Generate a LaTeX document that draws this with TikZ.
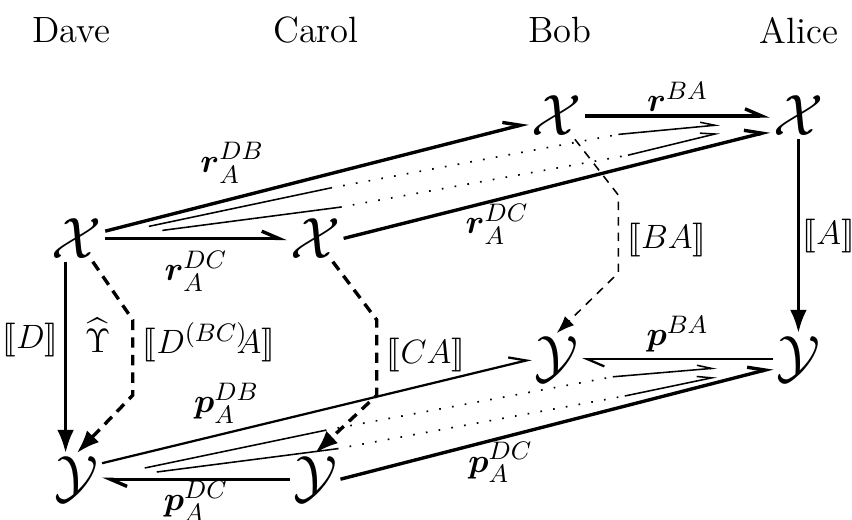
\documentclass[tikz,border=0pt]{standalone}
\usepackage{amsmath,amssymb,stmaryrd}
\usepackage{tikz}
\usetikzlibrary{arrows.meta, calc}

\begin{document}
\begin{tikzpicture}[
  every node/.style={font=\fontsize{13}{15}\selectfont},
  obj/.style     ={inner sep=1pt, font=\fontsize{20.5}{24}\selectfont},
  lbl/.style     ={inner sep=1pt},
  heavy/.style   ={line width=1.2pt},
  mid/.style     ={line width=0.8pt},
  fine/.style    ={line width=0.55pt},
  harp/.style    ={-{Straight Barb[left, length=2.1mm, width=1.8mm]}},
  harpsm/.style  ={-{Straight Barb[left, length=1.8mm, width=1.1mm]}},
  tri/.style     ={-{Latex[length=2.9mm, width=2.1mm]}},
  trism/.style   ={-{Latex[length=2.2mm, width=1.6mm]}},
  bigdash/.style ={heavy, dash pattern=on 1.3mm off 0.9mm},
  smalldash/.style={fine, dash pattern=on 3pt off 2.5pt},
  dots/.style    ={line width=0.6pt, loosely dotted},
]
\useasboundingbox (0,0) rectangle (10.65,-6.5);

%% ---- x layout (cm): D 0.96 / C 3.94 / B 6.96 / A 9.98 ----
%% ---- y layout (cm): names -0.38, X -1.45/-2.98, Y -4.49/-5.99 ----

%% ---- parties ----
\node (dave)  at (0.89,-0.38) {Dave};
\node (carol) at (3.95,-0.38) {Carol};
\node (bob)   at (7.00,-0.38) {Bob};
\node (alice) at (9.99,-0.38) {Alice};

%% ---- X row ----
\node[obj] (XD) at (0.96,-2.98) {$\mathcal{X}$};
\node[obj] (XC) at (3.94,-2.98) {$\mathcal{X}$};
\node[obj] (XB) at (6.96,-1.45) {$\mathcal{X}$};
\node[obj] (XA) at (9.98,-1.45) {$\mathcal{X}$};

%% ---- Y row ----
\node[obj] (YD) at (0.96,-5.99) {$\mathcal{Y}$};
\node[obj] (YC) at (3.94,-5.99) {$\mathcal{Y}$};
\node[obj] (YB) at (6.96,-4.49) {$\mathcal{Y}$};
\node[obj] (YA) at (9.98,-4.49) {$\mathcal{Y}$};

%% ---- r maps ----
\draw[heavy, harp] (XD) -- node[lbl, below=3pt] (lrDC) {$\boldsymbol{r}_A^{DC}$} (XC);
\draw[heavy, harp] (XD) -- node[lbl, pos=0.3, above=4pt] (lrDB) {$\boldsymbol{r}_A^{DB}$} (XB);
\draw[heavy, harp] (XC.east) -- node[lbl, pos=0.36, below=0pt] (lrDCb) {$\boldsymbol{r}_A^{DC}$}
  ([yshift=-0.19cm]XA.west);
\draw[heavy, harp] (XB) -- node[lbl, above=0pt] (lrBA) {$\boldsymbol{r}^{BA}$} (XA);

%% composites (solid / dotted / solid)
\coordinate (a1) at (1.86,-2.83); \coordinate (a2) at (4.13,-2.35);
\coordinate (a3) at (7.73,-1.68); \coordinate (a4) at (9.00,-1.56);
\coordinate (b1) at (2.03,-2.88); \coordinate (b2) at (4.25,-2.59);
\coordinate (b3) at (7.85,-1.94); \coordinate (b4) at (9.00,-1.66);
\draw[fine] (a1) -- (a2);
\draw[dots] (a2) -- (a3);
\draw[fine, harpsm] (a3) -- (a4);
\draw[fine] (b1) -- (b2);
\draw[dots] (b2) -- (b3);
\draw[fine, harpsm] (b3) -- (b4);

%% ---- p maps ----
\draw[heavy, harp] (YC) -- node[lbl, below=-1pt] (lpDC) {$\boldsymbol{p}_A^{DC}$} (YD);
\draw[mid, harp] ([yshift=0.2cm]YD.east) -- node[lbl, pos=0.29, above=2pt] (lpDB) {$\boldsymbol{p}_A^{DB}$}
  (YB.west);
\draw[heavy, harp] (YC.east) -- node[lbl, pos=0.37, below=0pt] (lpDCb) {$\boldsymbol{p}_A^{DC}$}
  ([yshift=-0.11cm]YA.west);
\draw[mid, harp] (YA) -- node[lbl, above=1pt] (lpBA) {$\boldsymbol{p}^{BA}$} (YB);

\coordinate (c1) at (1.81,-5.85); \coordinate (c2) at (4.06,-5.38);
\coordinate (c3) at (7.66,-4.71); \coordinate (c4) at (8.96,-4.60);
\coordinate (d1) at (1.96,-5.90); \coordinate (d2) at (4.21,-5.61);
\coordinate (d3) at (7.81,-4.95); \coordinate (d4) at (8.96,-4.71);
\draw[fine] (c1) -- (c2);
\draw[dots] (c2) -- (c3);
\draw[fine, harpsm] (c3) -- (c4);
\draw[fine] (d1) -- (d2);
\draw[dots] (d2) -- (d3);
\draw[fine, harpsm] (d3) -- (d4);

%% ---- semantics (vertical) ----
\draw[heavy, tri] ([xshift=-0.14cm]XD.south) -- node[lbl, pos=0.41, left=1pt] (lD) {$\llbracket D\rrbracket$}
  ([xshift=-0.14cm]YD.north);
\draw[heavy, tri] (XA) -- node[lbl, pos=0.5, right=0pt] (lA) {$\llbracket A\rrbracket$} (YA);

\coordinate (kD1) at (1.66,-4.00); \coordinate (kD2) at (1.66,-4.94);
\coordinate (kC1) at (4.71,-4.00); \coordinate (kC2) at (4.71,-4.94);
\coordinate (kB1) at (7.73,-2.44); \coordinate (kB2) at (7.73,-3.41);
\draw[bigdash, tri] (XD) -- (kD1) -- node[lbl, pos=0.3, right=2pt] (lDBCA) {$\llbracket D^{(BC)}\!\!A\rrbracket$}
  (kD2) -- (YD.north);
\draw[bigdash, tri] (XC) -- (kC1) -- node[lbl, pos=0.47, right=2pt] (lCA) {$\llbracket CA\rrbracket$}
  (kC2) -- (YC.north);
\draw[smalldash, trism] (XB) -- (kB1) -- node[lbl, pos=0.58, right=2pt] (lBA) {$\llbracket BA\rrbracket$}
  (kB2) -- (YB.north);

\node[lbl] (ups) at (1.22,-4.19) {$\widehat{\Upsilon}$};

\end{tikzpicture}
\end{document}
